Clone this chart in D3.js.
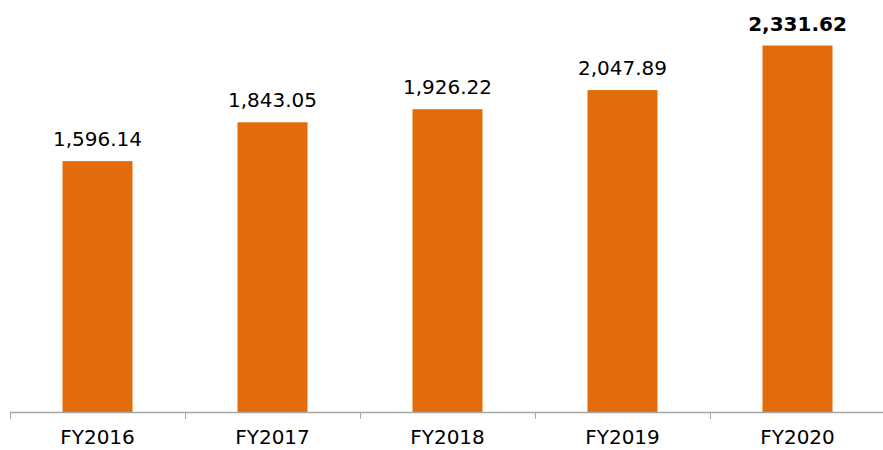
<!DOCTYPE html>
<html>
<head>
<meta charset="utf-8">
<script src="https://cdn.jsdelivr.net/npm/d3@7"></script>
<style>
  body { margin: 0; background: #fff; }
  text { font-family: Verdana, "DejaVu Sans", sans-serif; }
</style>
</head>
<body>
<div id="chart"></div>
<script>
// data
var years = ["FY2016", "FY2017", "FY2018", "FY2019", "FY2020"];
var values = [1596.14, 1843.05, 1926.22, 2047.89, 2331.62];

var width = 883, height = 450;
var baseY = 412;

var svg = d3.select("#chart").append("svg")
  .attr("width", width)
  .attr("height", height);

var x = d3.scaleBand().domain(years).range([10, 885]).paddingInner(0).paddingOuter(0);
var y = d3.scaleLinear().domain([0, 2331.62]).range([baseY, 45.5]);

var barW = 70;

svg.selectAll("rect.bar")
  .data(values)
  .enter().append("rect")
  .attr("class", "bar")
  .attr("x", function(d, i) { return x(years[i]) + x.bandwidth() / 2 - barW / 2; })
  .attr("y", function(d) { return y(d); })
  .attr("width", barW)
  .attr("height", function(d) { return baseY - y(d); })
  .attr("fill", "#E36C0A");

var fmt = d3.format(",.2f");
svg.selectAll("text.val")
  .data(values)
  .enter().append("text")
  .attr("class", "val")
  .attr("x", function(d, i) { return x(years[i]) + x.bandwidth() / 2; })
  .attr("y", function(d) { return y(d) - 15; })
  .attr("text-anchor", "middle")
  .attr("font-size", "20px")
  .attr("font-weight", function(d, i) { return i === values.length - 1 ? "bold" : "normal"; })
  .attr("fill", "#000")
  .text(function(d) { return fmt(d); });

// x axis: ticks at category boundaries
var axisG = svg.append("g");
axisG.append("line")
  .attr("x1", 10).attr("x2", 885)
  .attr("y1", baseY + 0.5).attr("y2", baseY + 0.5)
  .attr("stroke", "#A6A6A6").attr("stroke-width", 1.5);

var bounds = years.map(function(d) { return x(d); }).concat([x(years[years.length - 1]) + x.bandwidth()]);
axisG.selectAll("line.tick")
  .data(bounds)
  .enter().append("line")
  .attr("class", "tick")
  .attr("x1", function(d) { return Math.round(d) + 0.5; })
  .attr("x2", function(d) { return Math.round(d) + 0.5; })
  .attr("y1", baseY).attr("y2", baseY + 7)
  .attr("stroke", "#A6A6A6").attr("stroke-width", 1);

axisG.selectAll("text.lab")
  .data(years)
  .enter().append("text")
  .attr("class", "lab")
  .attr("x", function(d) { return x(d) + x.bandwidth() / 2; })
  .attr("y", 444)
  .attr("text-anchor", "middle")
  .attr("font-size", "20px")
  .attr("fill", "#000")
  .text(function(d) { return d; });
</script>
</body>
</html>
